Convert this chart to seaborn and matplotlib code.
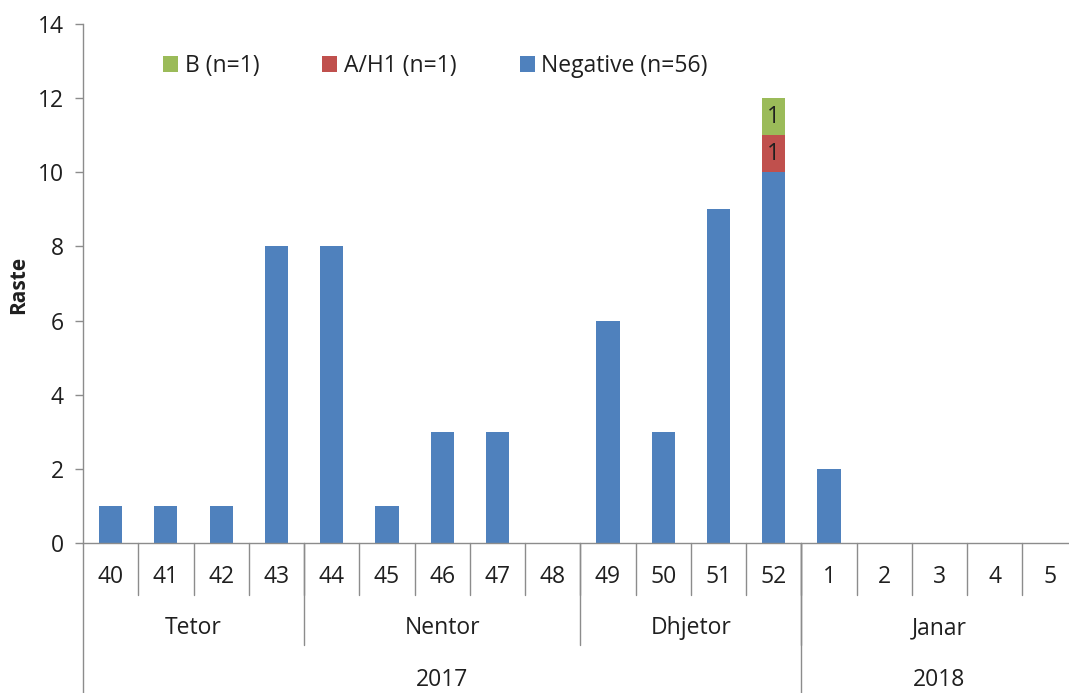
import matplotlib
matplotlib.use("Agg")
import matplotlib.pyplot as plt
import matplotlib.transforms as mtransforms
import seaborn as sns
import pandas as pd

weeks = ["40", "41", "42", "43", "44", "45", "46", "47", "48", "49", "50", "51", "52",
         "1", "2", "3", "4", "5"]
negative = [1, 1, 1, 8, 8, 1, 3, 3, 0, 6, 3, 9, 10, 2, 0, 0, 0, 0]
a_h1 = [0, 0, 0, 0, 0, 0, 0, 0, 0, 0, 0, 0, 1, 0, 0, 0, 0, 0]
b_flu = [0, 0, 0, 0, 0, 0, 0, 0, 0, 0, 0, 0, 1, 0, 0, 0, 0, 0]
months = ["Tetor", "Nentor", "Dhjetor", "Janar"]
month_spans = [(0, 3), (4, 8), (9, 12), (13, 17)]
years = ["2017", "2018"]
year_spans = [(0, 12), (13, 17)]
series_labels = ["B (n=1)", "A/H1 (n=1)", "Negative (n=56)"]

sns.set_theme(style="white")
plt.rcParams['font.family'] = ['Open Sans', 'DejaVu Sans']
text_color = "#1f1f1f"
line_color = "#8c8c8c"
fs = 16.5

df = pd.DataFrame({"week": weeks, "neg": negative, "ah1": a_h1, "b": b_flu})
df["lvl2"] = df["neg"] + df["ah1"]
df["lvl3"] = df["lvl2"] + df["b"]

fig = plt.figure(figsize=(10.69, 6.93), dpi=100)
ax = fig.add_axes([83 / 1069, 1 - 543 / 693, 1 - 83 / 1069, (543 - 24) / 693])

common = dict(order=weeks, width=0.42, saturation=1, linewidth=0, edgecolor="none", ax=ax)
sns.barplot(data=df, x="week", y="lvl3", color="#9BBB59", label=series_labels[0], **common)
sns.barplot(data=df, x="week", y="lvl2", color="#C0504D", label=series_labels[1], **common)
sns.barplot(data=df, x="week", y="neg", color="#4F81BD", label=series_labels[2], **common)

# segment labels
for i in range(len(weeks)):
    if a_h1[i] > 0:
        ax.text(i, negative[i] + a_h1[i] / 2, str(a_h1[i]), ha="center", va="center",
                fontsize=fs, color=text_color)
    if b_flu[i] > 0:
        ax.text(i, negative[i] + a_h1[i] + b_flu[i] / 2, str(b_flu[i]), ha="center",
                va="center", fontsize=fs, color=text_color)

ax.set_ylim(0, 14)
ax.set_yticks(range(0, 15, 2))
ax.set_xlim(-0.5, 17.5 - (1077.6 - 1069) / 55.3)
ax.set_xticks([])
ax.set_xlabel("")
ax.set_ylabel("")
fig.text(19 / 1069, 1 - 285 / 693, "Raste", rotation=90, ha="center", va="center",
         fontsize=15, fontweight="bold", color=text_color)
ax.tick_params(axis="y", direction="out", length=6, width=1, color=line_color,
               labelsize=fs, labelcolor=text_color, left=True, pad=8)

for s in ["top", "right"]:
    ax.spines[s].set_visible(False)
ax.spines["left"].set_color(line_color)
ax.spines["bottom"].set_color(line_color)
ax.spines["left"].set_linewidth(1)
ax.spines["bottom"].set_linewidth(1)

trans = mtransforms.blended_transform_factory(ax.transData, ax.transAxes)
px = 1 / 519.0
week_bot = -52 * px
month_bot = -102 * px
fig_bot = -150 * px - 0.01

# left spine extension
ax.plot([-0.5, -0.5], [0, fig_bot], transform=trans, color=line_color, lw=1, clip_on=False)
# week separators
for i in range(len(weeks)):
    ax.plot([i + 0.5, i + 0.5], [0, week_bot], transform=trans, color=line_color, lw=1,
            clip_on=False)
    ax.text(i, -34 * px, weeks[i], transform=trans, ha="center", va="center",
            fontsize=fs, color=text_color)
# month separators and labels
for name, (s, e) in zip(months, month_spans):
    if e < len(weeks) - 1:
        ax.plot([e + 0.5, e + 0.5], [0, month_bot], transform=trans, color=line_color,
                lw=1, clip_on=False)
    ax.text((s + e) / 2, -85 * px, name, transform=trans, ha="center", va="center",
            fontsize=fs, color=text_color)
# year separators and labels
for name, (s, e) in zip(years, year_spans):
    if e < len(weeks) - 1:
        ax.plot([e + 0.5, e + 0.5], [0, fig_bot], transform=trans, color=line_color,
                lw=1, clip_on=False)
    ax.text((s + e) / 2, -137 * px, name, transform=trans, ha="center", va="center",
            fontsize=fs, color=text_color)

leg = ax.legend(loc="upper left", bbox_to_anchor=(0.06, 0.982), ncol=3, frameon=False,
                fontsize=fs, handlelength=0.65, handleheight=0.65, handletextpad=0.3,
                columnspacing=2.75, labelcolor=text_color)

fig.savefig("out.png", dpi=100)
